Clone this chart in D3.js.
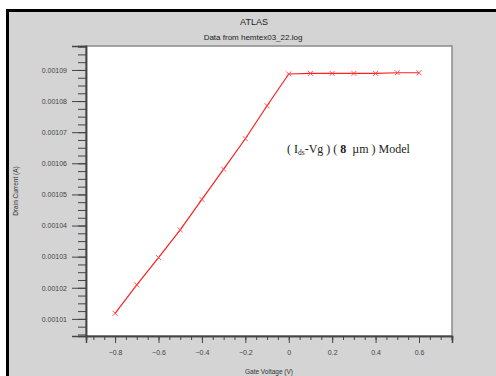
<!DOCTYPE html>
<html>
<head>
  <meta charset="UTF-8">
  <style>
body { margin: 0; background: #fff; }
svg { display: block; font-family: "Liberation Sans", Arial, sans-serif; }
  </style>
</head>
<body>
<svg id="chart"></svg>
<script src="https://d3js.org/d3.v7.min.js"></script>
<script>

// gate voltage (V) and drain current (A)
let gateVoltage = [-0.8, -0.7, -0.6, -0.5, -0.4, -0.3, -0.2, -0.1, 0, 0.1, 0.2, 0.3, 0.4, 0.5, 0.6];
let drainCurrent = [0.0010118, 0.0010209, 0.0010297, 0.0010386, 0.0010484, 0.0010581, 0.0010679, 0.0010785,
                    0.0010887, 0.0010889, 0.0010889, 0.0010889, 0.0010889, 0.0010891, 0.0010891];
let xTicks = [-0.8, -0.6, -0.4, -0.2, 0, 0.2, 0.4, 0.6];
let yTicks = [0.00101, 0.00102, 0.00103, 0.00104, 0.00105, 0.00106, 0.00107, 0.00108, 0.00109];

let width = 496, height = 376;
let plot = {left: 86, top: 46, right: 452, bottom: 336};

let svg = d3.select("#chart").attr("width", width).attr("height", height);

// window frame
svg.append("rect").attr("x", 6).attr("y", 9).attr("width", width - 6).attr("height", height - 9).attr("fill", "#000");
svg.append("rect").attr("x", 9).attr("y", 12).attr("width", width - 9).attr("height", height - 12).attr("fill", "#d4d4d4");

let x = d3.scaleLinear().domain([-0.934, 0.752]).range([plot.left, plot.right]);
let y = d3.scaleLinear().domain([0.0010045, 0.0010977]).range([plot.bottom, plot.top]);

svg.append("rect")
    .attr("x", plot.left).attr("y", plot.top)
    .attr("width", plot.right - plot.left).attr("height", plot.bottom - plot.top)
    .attr("fill", "#fff").attr("stroke", "#8a8a8a").attr("stroke-width", 1.5);

// titles
svg.append("text").attr("x", 254).attr("y", 25).attr("text-anchor", "middle")
    .attr("font-size", 9).attr("fill", "#222").text("ATLAS");
svg.append("text").attr("x", 253).attr("y", 40).attr("text-anchor", "middle")
    .attr("font-size", 8).attr("fill", "#222").text("Data from hemtex03_22.log");

// minor ticks
let xMinor = d3.range(-0.9, 0.76, 0.05).filter(v => v >= x.domain()[0] && v <= x.domain()[1]);
let yMinor = d3.range(0.0010050, 0.0010980, 0.0000025).filter(v => v >= y.domain()[0] && v <= y.domain()[1]);

let xAxis = svg.append("g").attr("transform", "translate(0," + plot.bottom + ")");
xAxis.call(d3.axisBottom(x).tickValues(xMinor).tickSize(4).tickFormat(""));
xAxis.append("g").call(d3.axisBottom(x).tickValues(xTicks).tickSize(7).tickPadding(7).tickFormat(d3.format("")));
xAxis.selectAll(".domain").attr("stroke", "#444").attr("stroke-width", 1.5);
xAxis.selectAll("line").attr("stroke", "#444");
xAxis.selectAll("text").attr("font-size", 7).attr("fill", "#444").attr("font-family", "Liberation Sans, Arial, sans-serif");

let yAxis = svg.append("g").attr("transform", "translate(" + plot.left + ",0)");
yAxis.call(d3.axisLeft(y).tickValues(yMinor).tickSize(8).tickFormat(""));
yAxis.append("g").call(d3.axisLeft(y).tickValues(yTicks).tickSize(14).tickPadding(5).tickFormat(d3.format(".5f")));
yAxis.selectAll(".domain").attr("stroke", "#444").attr("stroke-width", 1.5);
yAxis.selectAll("line").attr("stroke", "#444");
yAxis.selectAll("text").attr("font-size", 7).attr("fill", "#444").attr("font-family", "Liberation Sans, Arial, sans-serif");

// axis titles
svg.append("text").attr("x", (plot.left + plot.right) / 2).attr("y", 374).attr("text-anchor", "middle")
    .attr("font-size", 6.5).attr("fill", "#333").text("Gate Voltage (V)");
svg.append("text").attr("transform", "translate(18," + ((plot.top + plot.bottom) / 2) + ") rotate(-90)")
    .attr("text-anchor", "middle").attr("font-size", 6.5).attr("fill", "#333").text("Drain Current (A)");

// data line
let pts = gateVoltage.map((v, i) => [v, drainCurrent[i]]);
svg.append("path")
    .datum(pts)
    .attr("d", d3.line().x(d => x(d[0])).y(d => y(d[1])))
    .attr("fill", "none").attr("stroke", "#ff2020").attr("stroke-width", 1.2);

// x markers
let s = 2.5;
svg.append("g").selectAll("path")
    .data(pts)
    .join("path")
    .attr("d", d => {
        let cx = x(d[0]), cy = y(d[1]);
        return "M" + (cx - s) + "," + (cy - s) + "L" + (cx + s) + "," + (cy + s) +
               "M" + (cx - s) + "," + (cy + s) + "L" + (cx + s) + "," + (cy - s);
    })
    .attr("stroke", "#ff4040").attr("stroke-width", 0.9).attr("fill", "none");

// annotation
let note = svg.append("text").attr("x", 287).attr("y", 153)
    .attr("font-family", "Liberation Serif, Times New Roman, serif").attr("font-size", 12).attr("fill", "#222")
    .attr("xml:space", "preserve").style("white-space", "pre");
note.append("tspan").text("( I");
note.append("tspan").attr("font-size", 7.5).attr("dy", 1.5).text("ds");
note.append("tspan").attr("dy", -1.5).text("-Vg ) ( ");
note.append("tspan").attr("font-weight", "bold").text("8");
note.append("tspan").text("  \u00b5m ) Model");

</script>
</body>
</html>
